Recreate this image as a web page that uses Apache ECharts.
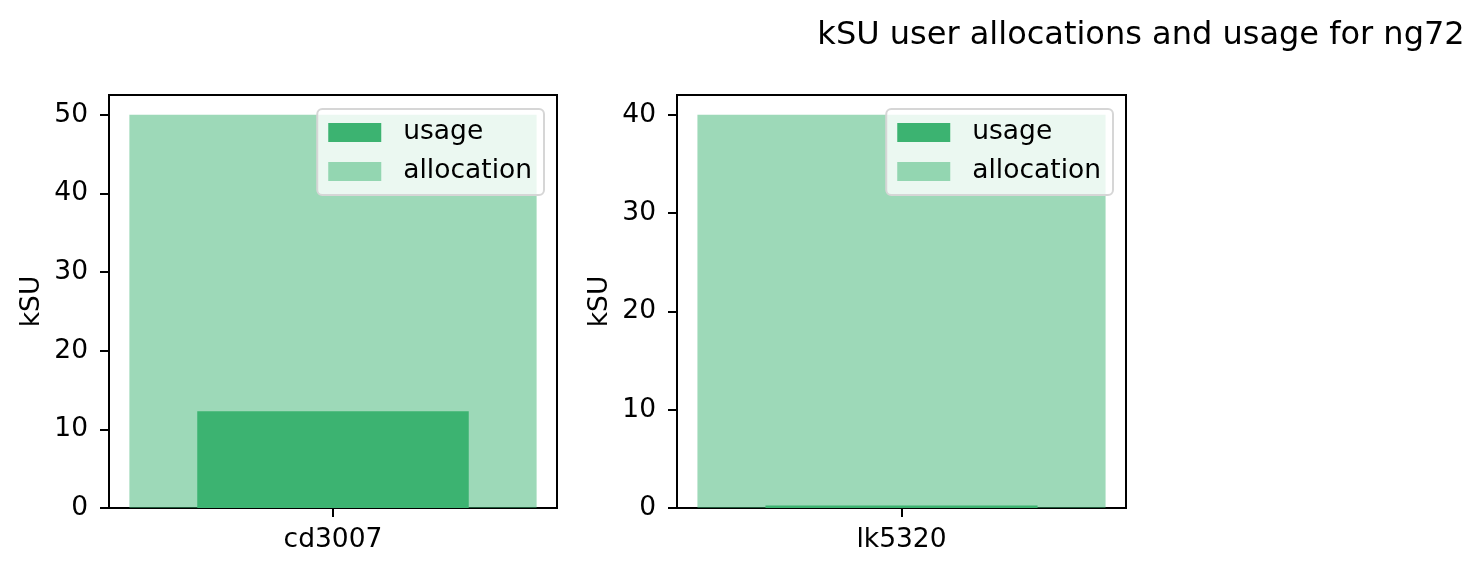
<!DOCTYPE html>
<html>
<head>
<meta charset="utf-8">
<script src="https://cdn.jsdelivr.net/npm/echarts@6/dist/echarts.min.js"></script>
<style>html,body{margin:0;padding:0;background:#fff;}#c{width:1482px;height:572px;}</style>
</head>
<body>
<div id="c"></div>
<script>
var title = 'kSU user allocations and usage for ng72';
var usersLeft = ['cd3007'];
var usersRight = ['lk5320'];
var usageLeft = [12.3];
var allocLeft = [50];
var usageRight = [0.25];
var allocRight = [40];
var yTicksLeft = [0, 10, 20, 30, 40, 50];
var yTicksRight = [0, 10, 20, 30, 40];
var yMaxLeft = 52.5;
var yMaxRight = 42;

var FONT = 'DejaVu Sans';
var FS = 26.5;
var GREEN = '#3CB371';
var GREEN_A = 'rgba(60,179,113,0.5)';

var chart = echarts.init(document.getElementById('c'), null, {renderer: 'canvas'});

function yAxis(gridIndex, max, ticks) {
  return {
    type: 'value', gridIndex: gridIndex, min: 0, max: max,
    name: 'kSU', nameLocation: 'middle', nameGap: 63,
    nameTextStyle: {fontFamily: FONT, fontSize: FS, color: '#000'},
    splitLine: {show: false},
    axisLine: {show: true, lineStyle: {color: '#000', width: 2}},
    axisTick: {show: true, length: 9, lineStyle: {color: '#000', width: 2}, customValues: ticks},
    axisLabel: {fontFamily: FONT, fontSize: FS, color: '#000', margin: 21, customValues: ticks}
  };
}
function xAxisMain(gridIndex, cats) {
  return {
    type: 'category', gridIndex: gridIndex, data: cats,
    axisLine: {show: true, lineStyle: {color: '#000', width: 2}},
    axisTick: {show: true, alignWithLabel: true, length: 9, lineStyle: {color: '#000', width: 2}},
    axisLabel: {fontFamily: FONT, fontSize: FS, color: '#000', margin: 19},
    splitLine: {show: false}
  };
}
function xAxisHidden(gridIndex, cats) {
  return {type: 'category', gridIndex: gridIndex, data: cats, show: false};
}
function legend(right) {
  return {
    data: ['usage', 'allocation'], orient: 'vertical', right: right, top: 109,
    itemWidth: 53, itemHeight: 19, itemGap: 12,
    padding: [10, 12, 10, 11],
    backgroundColor: 'rgba(255,255,255,0.8)', borderColor: '#d6d6d6', borderWidth: 2, borderRadius: 5,
    textStyle: {fontFamily: FONT, fontSize: FS, color: '#000', padding: [0, 0, 0, 17]},
    icon: 'rect', selectedMode: false
  };
}

chart.setOption({
  animation: false,
  backgroundColor: '#fff',
  title: {text: title, left: 1136, top: 15, textAlign: 'center',
    textStyle: {fontFamily: FONT, fontSize: 32, fontWeight: 'normal', color: '#000'}},
  grid: [
    {left: 109, top: 95, width: 448, height: 413, show: true, borderColor: '#000', borderWidth: 2, backgroundColor: 'transparent'},
    {left: 677, top: 95, width: 449, height: 413, show: true, borderColor: '#000', borderWidth: 2, backgroundColor: 'transparent'}
  ],
  legend: [legend(1482 - 544), legend(1482 - 1113)],
  xAxis: [xAxisMain(0, usersLeft), xAxisHidden(0, usersLeft), xAxisMain(1, usersRight), xAxisHidden(1, usersRight)],
  yAxis: [yAxis(0, yMaxLeft, yTicksLeft), yAxis(1, yMaxRight, yTicksRight)],
  series: [
    {name: 'allocation', type: 'bar', xAxisIndex: 1, yAxisIndex: 0, data: allocLeft, barWidth: '90.9%', itemStyle: {color: GREEN_A}, z: 1},
    {name: 'usage', type: 'bar', xAxisIndex: 0, yAxisIndex: 0, data: usageLeft, barWidth: '60.6%', itemStyle: {color: GREEN}, z: 2},
    {name: 'allocation', type: 'bar', xAxisIndex: 3, yAxisIndex: 1, data: allocRight, barWidth: '90.9%', itemStyle: {color: GREEN_A}, z: 1},
    {name: 'usage', type: 'bar', xAxisIndex: 2, yAxisIndex: 1, data: usageRight, barWidth: '60.6%', itemStyle: {color: GREEN}, z: 2}
  ]
});
</script>
</body>
</html>
